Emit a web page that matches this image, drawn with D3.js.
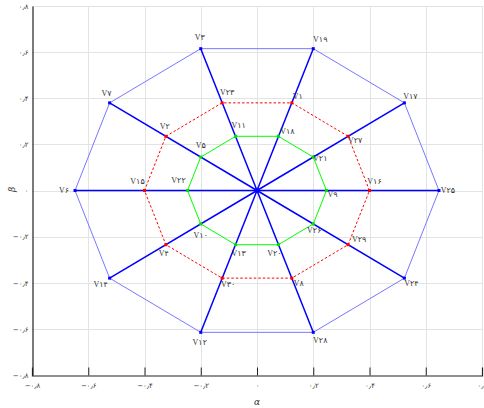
<!DOCTYPE html>
<html>
<head>
<meta charset="utf-8">
<script src="https://cdn.jsdelivr.net/npm/d3@7"></script>
<style>
	body { margin: 0; background: #fff; }
	svg { display: block; }
</style>
</head>
<body>
<svg id="chart" width="484" height="408"></svg>
<script>
// space vectors (alpha, beta)
const largeNames = ["V25", "V17", "V19", "V3", "V7", "V6", "V14", "V12", "V28", "V24"];
const largeX = [0.647, 0.524, 0.2, -0.2, -0.524, -0.647, -0.524, -0.2, 0.2, 0.524];
const largeY = [0, 0.38, 0.615, 0.615, 0.38, 0, -0.38, -0.615, -0.615, -0.38];

const mediumNames = ["V16", "V27", "V1", "V23", "V2", "V15", "V4", "V30", "V8", "V29"];
const mediumX = [0.4, 0.324, 0.124, -0.124, -0.324, -0.4, -0.324, -0.124, 0.124, 0.324];
const mediumY = [0, 0.235, 0.38, 0.38, 0.235, 0, -0.235, -0.38, -0.38, -0.235];

const smallNames = ["V9", "V21", "V18", "V11", "V5", "V22", "V10", "V13", "V20", "V26"];
const smallX = [0.247, 0.2, 0.076, -0.076, -0.2, -0.247, -0.2, -0.076, 0.076, 0.2];
const smallY = [0, 0.145, 0.235, 0.235, 0.145, 0, -0.145, -0.235, -0.235, -0.145];

const tickValues = [-0.8, -0.6, -0.4, -0.2, 0, 0.2, 0.4, 0.6, 0.8];

// persian digits with arabic decimal mark
const faDigits = "۰۱۲۳۴۵۶۷۸۹";
function toFa(s) {
	return String(s).replace(/[0-9]/g, c => faDigits[+c]).replace(".", "٫");
}

const svg = d3.select("#chart");

const x = d3.scaleLinear().domain([-0.8, 0.8]).range([32, 482]);
const y = d3.scaleLinear().domain([-0.8, 0.8]).range([375, 6]);

// grid
const grid = svg.append("g").attr("stroke", "#e3e3e3").attr("stroke-width", 1);
grid.selectAll("line.gx")
	.data(tickValues.slice(1))
	.join("line")
	.attr("x1", d => Math.round(x(d)) + 0.5).attr("x2", d => Math.round(x(d)) + 0.5)
	.attr("y1", y(0.8)).attr("y2", y(-0.8));
grid.selectAll("line.gy")
	.data(tickValues.slice(1))
	.join("line")
	.attr("y1", d => Math.round(y(d)) + 0.5).attr("y2", d => Math.round(y(d)) + 0.5)
	.attr("x1", x(-0.8)).attr("x2", x(0.8));

// axes
const xAxis = d3.axisBottom(x)
	.tickValues(tickValues)
	.tickSize(-8)
	.tickPadding(8)
	.tickFormat(d => toFa(d3.format("~g")(d)));

const yAxis = d3.axisLeft(y)
	.tickValues(tickValues)
	.tickSize(0)
	.tickPadding(4)
	.tickFormat(d => toFa(d3.format("~g")(d)));

const gx = svg.append("g")
	.attr("transform", `translate(0,${Math.round(y(-0.8)) + 0.5})`)
	.call(xAxis);
const gy = svg.append("g")
	.attr("transform", `translate(${Math.round(x(-0.8)) + 0.5},0)`)
	.call(yAxis);

[gx, gy].forEach(g => {
	g.select(".domain").attr("stroke", "#222").attr("stroke-width", 1.2);
	g.selectAll(".tick line").attr("stroke", "#222");
	g.selectAll(".tick text")
		.attr("font-family", "DejaVu Sans")
		.attr("font-size", 7)
		.attr("fill", "#333");
});
gx.selectAll(".tick line").filter(d => Math.abs(d) === 0.8).remove();

svg.append("text")
	.attr("x", x(0))
	.attr("y", 405)
	.attr("text-anchor", "middle")
	.attr("font-family", "DejaVu Serif")
	.attr("font-style", "italic")
	.attr("font-size", 9)
	.attr("fill", "#333")
	.text("α");

svg.append("text")
	.attr("transform", `translate(15,${y(0) - 1}) rotate(-90)`)
	.attr("text-anchor", "middle")
	.attr("font-family", "DejaVu Serif")
	.attr("font-style", "italic")
	.attr("font-size", 9)
	.attr("fill", "#333")
	.text("β");

// build point lists
function ring(names, xs, ys) {
	return names.map((n, i) => ({name: n, x: xs[i], y: ys[i]}));
}
const large = ring(largeNames, largeX, largeY);
const medium = ring(mediumNames, mediumX, mediumY);
const small = ring(smallNames, smallX, smallY);

const closed = d3.line().x(d => x(d.x)).y(d => y(d.y)).curve(d3.curveLinearClosed);

svg.append("path")
	.datum(large)
	.attr("d", closed)
	.attr("fill", "none")
	.attr("stroke", "#7878ff")
	.attr("stroke-width", 1);

svg.append("path")
	.datum(medium)
	.attr("d", closed)
	.attr("fill", "none")
	.attr("stroke", "#ff0000")
	.attr("stroke-width", 1)
	.attr("stroke-dasharray", "2.5,2");

svg.append("path")
	.datum(small)
	.attr("d", closed)
	.attr("fill", "none")
	.attr("stroke", "#00ff00")
	.attr("stroke-width", 1);

// spokes from origin to the large vectors
svg.append("g")
	.selectAll("line")
	.data(large)
	.join("line")
	.attr("x1", x(0)).attr("y1", y(0))
	.attr("x2", d => x(d.x)).attr("y2", d => y(d.y))
	.attr("stroke", "#0000ff")
	.attr("stroke-width", 1.5);

// markers
const markers = svg.append("g");
[[large, "#0000ff"], [medium, "#ff0000"], [small, "#00e000"]].forEach(([pts, col]) => {
	markers.selectAll(null)
		.data(pts)
		.join("rect")
		.attr("x", d => x(d.x) - 1.5)
		.attr("y", d => y(d.y) - 1.5)
		.attr("width", 3)
		.attr("height", 3)
		.attr("fill", col);
});
markers.append("rect")
	.attr("x", x(0) - 2).attr("y", y(0) - 2)
	.attr("width", 4).attr("height", 4)
	.attr("fill", "#0000ff");

// label nudges in px, so labels sit clear of the lines
const labelNudge = {
	V25: [9, 0], V17: [6, -6], V19: [7, -9], V3: [-1, -11], V7: [-3, -9],
	V6: [-11, 0], V14: [-9, 6], V12: [-1, 10], V28: [7, 8], V24: [7, 5],
	V16: [5, -9], V27: [7, 4], V1: [6, -6], V23: [5, -10], V2: [-1, -10],
	V15: [-7, -9], V4: [-2, 9], V30: [6, 6], V8: [7, 5], V29: [11, -5],
	V9: [6, 4], V21: [7, 1], V18: [9, -5], V11: [3, -11], V5: [0, -12],
	V22: [-9, -10], V10: [0, 12], V13: [3, 9], V20: [-4, 9], V26: [1, 7]
};

svg.append("g")
	.selectAll("text")
	.data(large.concat(medium, small))
	.join("text")
	.attr("x", d => x(d.x) + labelNudge[d.name][0])
	.attr("y", d => y(d.y) + labelNudge[d.name][1])
	.attr("text-anchor", "middle")
	.attr("dominant-baseline", "central")
	.attr("font-family", "Liberation Serif, DejaVu Sans")
	.attr("font-size", 8)
	.attr("fill", "#333")
	.text(d => "V" + toFa(d.name.slice(1)));
</script>
</body>
</html>
